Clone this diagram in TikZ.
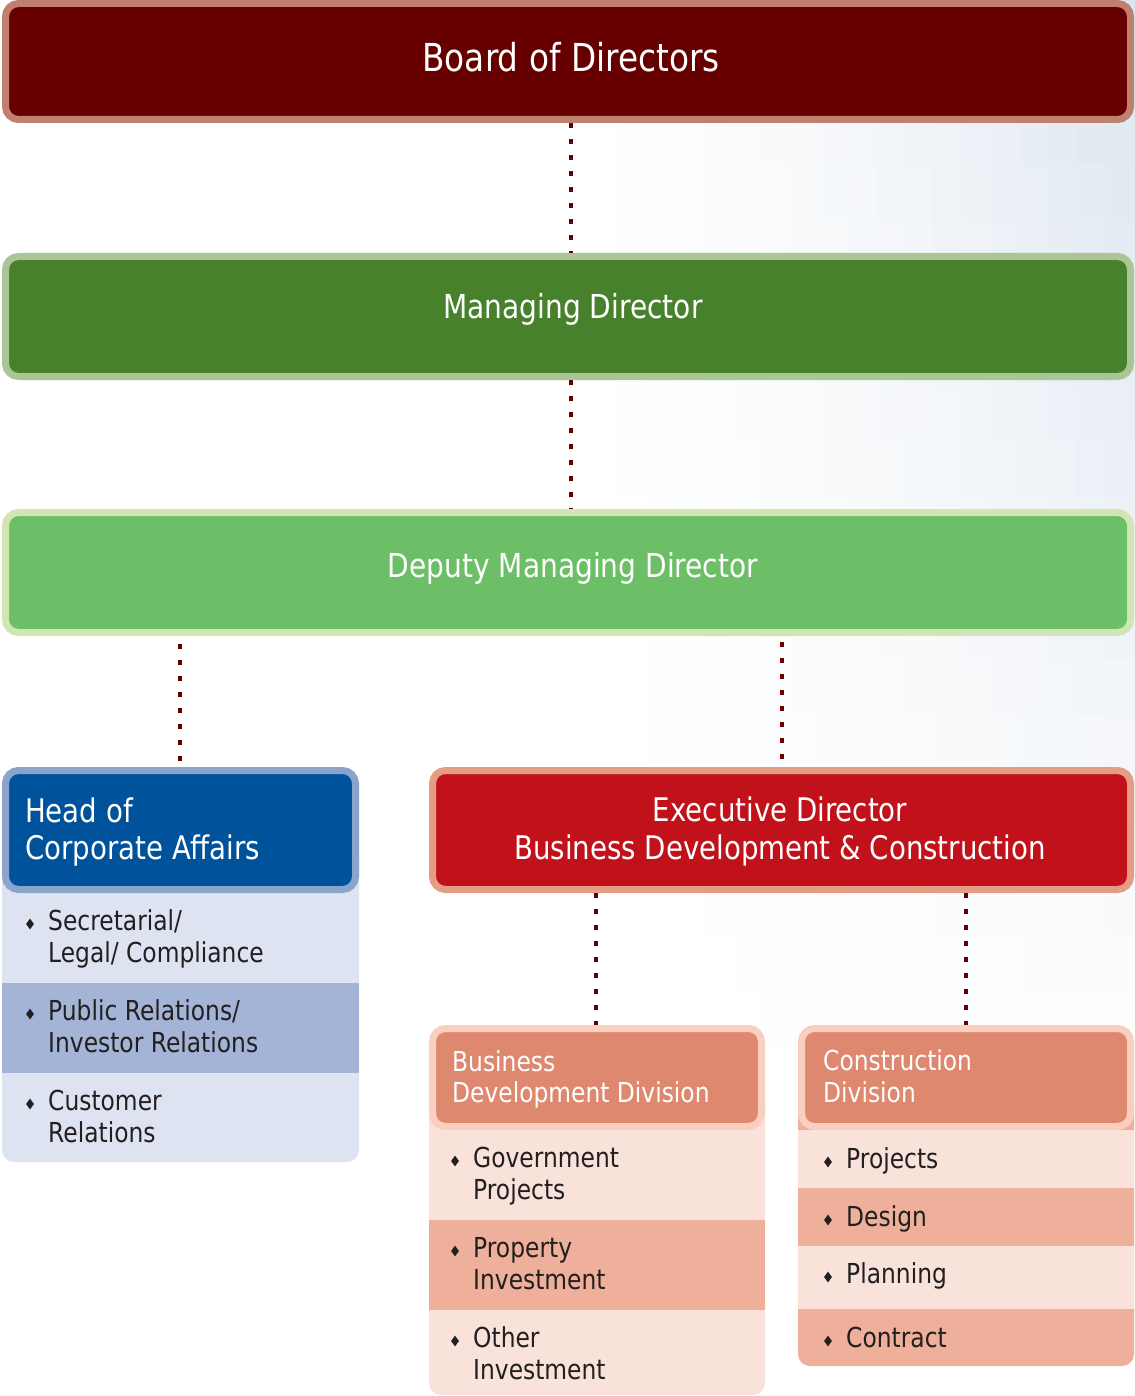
\documentclass[tikz,border=0pt]{standalone}
\usepackage{fontspec}
\setmainfont{DejaVu Sans}[FakeStretch=0.85]
\usetikzlibrary{shapes.geometric}

\definecolor{boardfill}{HTML}{660000}
\definecolor{boardrim}{HTML}{C08070}
\definecolor{mdfill}{HTML}{47812C}
\definecolor{mdrim}{HTML}{AAC596}
\definecolor{dmdfill}{HTML}{6CBF66}
\definecolor{dmdrim}{HTML}{D2E5B5}
\definecolor{hcafill}{HTML}{00539B}
\definecolor{hcarim}{HTML}{8BA4CC}
\definecolor{hcalight}{HTML}{DEE3F1}
\definecolor{hcamid}{HTML}{A3B4D6}
\definecolor{edfill}{HTML}{C1121C}
\definecolor{edrim}{HTML}{E49C84}
\definecolor{divfill}{HTML}{DF8870}
\definecolor{divrim}{HTML}{FBCFBF}
\definecolor{divlight}{HTML}{F9E2D9}
\definecolor{divmid}{HTML}{EEB09A}
\definecolor{linkred}{HTML}{660000}
\definecolor{itemtext}{HTML}{231F20}
\definecolor{haze}{HTML}{DCE5EF}

% two stacked lines whose baseline is the first line
\newcommand{\duoline}[2]{\parbox[t]{600pt}{\raggedright #1\\#2}}

\tikzset{
  orgbox/.style={rectangle, rounded corners=13pt, line width=7pt,
    inner sep=0pt, anchor=north west},
  hdtext/.style={text=white, inner sep=0pt},
  itemtext/.style={text=itemtext, inner sep=0pt, anchor=base west,
    font=\fontsize{27.5}{32}\selectfont},
  bul/.style={diamond, fill=itemtext, inner sep=0pt,
    minimum width=8pt, minimum height=11pt},
  link/.style={draw=linkred, line width=4pt, dash pattern=on 5pt off 11pt}
}

\begin{document}
\begin{tikzpicture}[x=1pt, y=-1pt]
\useasboundingbox (0,0) rectangle (1134,1396);
\fill[white] (0,0) rectangle (1134,1396);
% soft tint towards the upper right, built from small tiles
\foreach \i in {0,...,19}{
  \foreach \j in {0,...,19}{
    \pgfmathtruncatemacro\pc{100*((\i+0.5)/20)^1.6*(1-\j/20)}
    \fill[haze!\pc!white] ({560+\i*28.7},{\j*55}) rectangle ({560+(\i+1)*28.7+1},{(\j+1)*55+1});
  }
}

% list panels under the lower headers
\fill[hcalight, rounded corners=12pt] (2,840) rectangle (359,1162);
\fill[hcamid] (2,983) rectangle (359,1073);
\fill[divlight, rounded corners=12pt] (429,1090) rectangle (765,1395);
\fill[divmid] (429,1220) rectangle (765,1310);
\fill[divmid, rounded corners=12pt] (798,1090) rectangle (1134,1366);
\fill[divlight] (798,1130) rectangle (1134,1188);
\fill[divlight] (798,1246) rectangle (1134,1309);

% header boxes
\node[orgbox, draw=boardrim, fill=boardfill, minimum width=1125pt, minimum height=116pt] (board) at (2,0) {};
\node[orgbox, draw=mdrim, fill=mdfill, minimum width=1125pt, minimum height=120pt] (md) at (2,253) {};
\node[orgbox, draw=dmdrim, fill=dmdfill, minimum width=1125pt, minimum height=120pt] (dmd) at (2,509) {};
\node[orgbox, draw=hcarim, fill=hcafill, minimum width=350pt, minimum height=119pt] (hca) at (2,767) {};
\node[orgbox, draw=edrim, fill=edfill, minimum width=698pt, minimum height=119pt] (ed) at (429,767) {};
\node[orgbox, draw=divrim, fill=divfill, minimum width=329pt, minimum height=98pt] (bdd) at (429,1025) {};
\node[orgbox, draw=divrim, fill=divfill, minimum width=329pt, minimum height=98pt] (cd) at (798,1025) {};

% header titles
\node[hdtext, anchor=base, font=\fontsize{38.5}{44}\selectfont] (board-t) at (571,72) {Board of Directors};
\node[hdtext, anchor=base, font=\fontsize{33}{38}\selectfont] (md-t) at (573,318) {Managing Director};
\node[hdtext, anchor=base, font=\fontsize{33}{38}\selectfont] (dmd-t) at (573,577) {Deputy Managing Director};
\node[hdtext, anchor=base west, font=\fontsize{32.5}{37}\selectfont] (hca-t) at (25,822) {\duoline{Head of}{Corporate Affairs}};
\node[hdtext, anchor=base, font=\fontsize{32.5}{38}\selectfont] (ed-t) at (780,821)
  {\parbox[t]{680pt}{\centering Executive Director\\Business Development \& Construction}};
\node[hdtext, anchor=base west, font=\fontsize{27.5}{31}\selectfont] (bdd-t) at (452,1071) {\duoline{Business}{Development Division}};
\node[hdtext, anchor=base west, font=\fontsize{27.5}{32}\selectfont] (cd-t) at (823,1070) {\duoline{Construction}{Division}};

% corporate affairs list
\node[bul] (hb1) at (30,924) {};
\node[itemtext] (hi1) at (48,930) {\duoline{Secretarial/}{Legal/ Compliance}};
\node[bul] (hb2) at (30,1014) {};
\node[itemtext] (hi2) at (48,1020) {\duoline{Public Relations/}{Investor Relations}};
\node[bul] (hb3) at (30,1104) {};
\node[itemtext] (hi3) at (48,1110) {\duoline{Customer}{Relations}};

% business development list
\node[bul] (bb1) at (455,1161) {};
\node[itemtext] (bi1) at (473,1167) {\duoline{Government}{Projects}};
\node[bul] (bb2) at (455,1251) {};
\node[itemtext] (bi2) at (473,1257) {\duoline{Property}{Investment}};
\node[bul] (bb3) at (455,1341) {};
\node[itemtext] (bi3) at (473,1347) {\duoline{Other}{Investment}};

% construction list
\node[bul] (cb1) at (828,1162) {};
\node[itemtext] (ci1) at (846,1168) {Projects};
\node[bul] (cb2) at (828,1220) {};
\node[itemtext] (ci2) at (846,1226) {Design};
\node[bul] (cb3) at (828,1277) {};
\node[itemtext] (ci3) at (846,1283) {Planning};
\node[bul] (cb4) at (828,1341) {};
\node[itemtext] (ci4) at (846,1347) {Contract};

% reporting lines
\coordinate (xmain) at (571,0);
\coordinate (xhca) at (180,0);
\coordinate (xed) at (782,0);
\coordinate (xbdd) at (596,0);
\coordinate (xcd) at (966,0);
\draw[link] (board.south -| xmain) -- (md.north -| xmain);
\draw[link] (md.south -| xmain) -- (dmd.north -| xmain);
\draw[link] ([yshift=-8pt]dmd.south -| xhca) -- (hca.north -| xhca);
\draw[link] ([yshift=-6pt]dmd.south -| xed) -- (ed.north -| xed);
\draw[link] (ed.south -| xbdd) -- (bdd.north -| xbdd);
\draw[link] (ed.south -| xcd) -- (cd.north -| xcd);
\end{tikzpicture}
\end{document}
